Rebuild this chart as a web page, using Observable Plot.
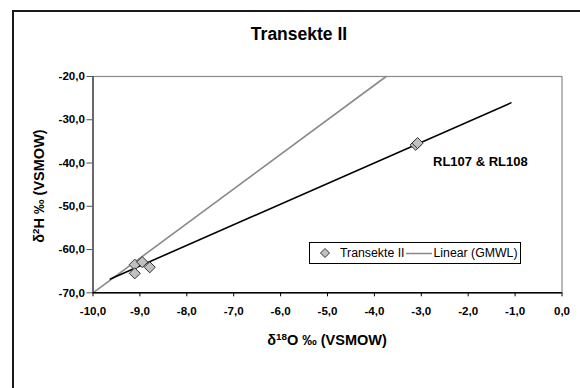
<!DOCTYPE html>
<html>
<head>
<meta charset="utf-8">
<script src="https://cdn.jsdelivr.net/npm/d3@7"></script>
<script src="https://cdn.jsdelivr.net/npm/@observablehq/plot@0.6"></script>
<style>
  html, body { margin: 0; padding: 0; background: #fff; }
  #wrap { position: relative; width: 580px; height: 388px; overflow: hidden; font-family: "Liberation Sans", Arial, sans-serif; background: #fff; }
  #border { position: absolute; left: 12px; top: 10px; width: 700px; height: 500px; border: 2px solid #1a1a1a; box-sizing: border-box; }
  #chart { position: absolute; left: 0; top: 0; }
  .t { position: absolute; font-weight: bold; color: #000; white-space: nowrap; text-align: center; }
  sup { font-size: 0.68em; vertical-align: 0; position: relative; top: -0.5em; line-height: 0; }
  #legend { position: absolute; left: 309px; top: 242px; width: 212px; height: 22px; box-sizing: border-box; border: 1px solid #000; background: #fff; font-size: 12.3px; color: #000; display: flex; align-items: center; white-space: nowrap; }
  #legend span { flex: none; white-space: nowrap; }
</style>
</head>
<body>
<div id="wrap">
  <div id="border"></div>
  <div id="chart"></div>
  <div class="t" style="left:199px;width:200px;top:24px;font-size:17.5px;line-height:20px;">Transekte II</div>
  <div class="t" style="left:227px;width:200px;top:330px;font-size:14.5px;line-height:20px;">δ<sup>18</sup>O ‰ (VSMOW)</div>
  <div class="t" style="left:-61px;width:200px;top:176px;font-size:14.5px;line-height:20px;transform:rotate(-90deg);transform-origin:center;">δ<sup>2</sup>H ‰ (VSMOW)</div>
  <div id="legend">
    <svg width="30" height="20" style="flex:none"><path d="M15,5.5 L19.5,10 L15,14.5 L10.5,10 Z" fill="#c0c0c0" stroke="#333" stroke-width="1"/></svg>
    <span>Transekte II</span>
    <svg width="29" height="20" style="flex:none"><line x1="2" x2="28" y1="10.5" y2="10.5" stroke="#888" stroke-width="1.5"/></svg>
    <span>Linear (GMWL)</span>
  </div>
</div>
<script>
// Sample points (δ18O, δ2H)
const o18 = [-9.11, -8.95, -9.11, -8.79, -3.12, -3.08];
const h2  = [-63.5, -62.9, -65.5, -64.1, -35.8, -35.4];

// Linear trend line through samples (endpoints)
const fitX = [-9.63, -1.09];
const fitY = [-66.8, -26.1];

// GMWL line (δ2H = 8·δ18O + 10), endpoints
const gmwlX = [-10, -3.75];
const gmwlY = [-70, -20];

// Annotation
const annoText = ["RL107 & RL108"];
const annoX = [-2.75];
const annoY = [-39.8];

// Tick values
const xTicks = [-10, -9, -8, -7, -6, -5, -4, -3, -2, -1, 0];
const yTicks = [-70, -60, -50, -40, -30, -20];

const fmt = d => d.toFixed(1).replace(".", ",");

const points = o18.map((x, i) => ({x, y: h2[i]}));
const fit = fitX.map((x, i) => ({x, y: fitY[i]}));
const gmwl = gmwlX.map((x, i) => ({x, y: gmwlY[i]}));
const anno = annoText.map((t, i) => ({t, x: annoX[i], y: annoY[i]}));

const chart = Plot.plot({
  width: 580,
  height: 388,
  marginLeft: 92.5,
  marginRight: 18.5,
  marginTop: 76,
  marginBottom: 95.7,
  style: {
    fontFamily: "'Liberation Sans', Arial, sans-serif",
    fontSize: "11.6px",
    fontWeight: "bold",
    background: "transparent",
    overflow: "visible",
    color: "#000"
  },
  x: { domain: [-10, 0], label: null },
  y: { domain: [-70, -20], label: null },
  marks: [
    Plot.frame({ stroke: "#8a8a8a", strokeWidth: 1.2 }),
    Plot.line(gmwl, { x: "x", y: "y", stroke: "#8a8a8a", strokeWidth: 1.6 }),
    Plot.line(fit, { x: "x", y: "y", stroke: "#000", strokeWidth: 1.6 }),
    Plot.dot(points, { x: "x", y: "y", symbol: "diamond2", r: 5, fill: "#c0c0c0", stroke: "#333", strokeWidth: 1, fillOpacity: 1 }),
    Plot.text(anno, { x: "x", y: "y", text: "t", textAnchor: "start", fontSize: 13, fontWeight: "bold", fill: "#000" }),
    Plot.ruleX([-10], { stroke: "#555", strokeWidth: 1.6 }),
    Plot.ruleY([-70], { stroke: "#000", strokeWidth: 1.6 }),
    Plot.axisX({ ticks: xTicks, tickFormat: fmt, tickSize: 4, tickPadding: 10, stroke: "#000", fill: "#000", label: null }),
    Plot.axisY({ ticks: yTicks, tickFormat: fmt, tickSize: 6, tickPadding: 2, stroke: "#555", fill: "#000", label: null })
  ]
});
document.getElementById("chart").appendChild(chart);
</script>
</body>
</html>
